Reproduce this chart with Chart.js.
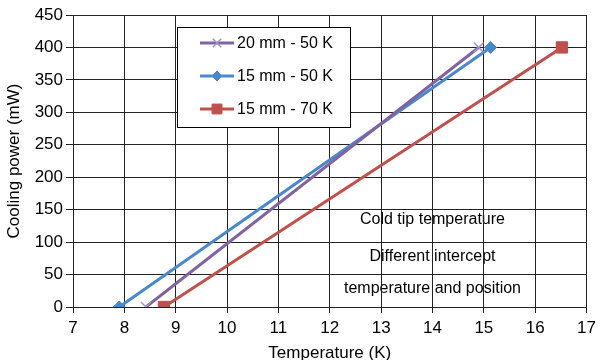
<!DOCTYPE html>
<html>
<head>
<meta charset="utf-8">
<script src="https://cdn.jsdelivr.net/npm/chart.js@4/dist/chart.umd.min.js"></script>
<style>
  html, body { margin: 0; padding: 0; background: #fff; }
  canvas { display: block; }
</style>
</head>
<body>
<canvas id="chart" width="601" height="360"></canvas>
<script>
// series values: [temperature K, cooling power mW]
const seriesLabels = ['20 mm - 50 K', '15 mm - 50 K', '15 mm - 70 K'];
const temps20mm50K = [8.42, 14.9];
const power20mm50K = [0, 400];
const temps15mm50K = [7.9, 15.13];
const power15mm50K = [0, 400];
const temps15mm70K = [8.77, 16.52];
const power15mm70K = [0, 400];

const xTicks = [7, 8, 9, 10, 11, 12, 13, 14, 15, 16, 17];
const yTicks = [0, 50, 100, 150, 200, 250, 300, 350, 400, 450];
const noteLines = ['Cold tip temperature', 'Different intercept', 'temperature and position'];
const noteX = 14.0;
const noteY = [134, 77, 28];

const FONT = '"Liberation Sans", Arial, sans-serif';
const GRID = '#222';

function toPoints(xs, ys) {
    return xs.map((x, i) => ({ x: x, y: ys[i] }));
}

// legend box drawn inside the plot, like the original
const boxLegend = {
    id: 'boxLegend',
    afterDraw(chart) {
        const ctx = chart.ctx;
        const left = 177, top = 27, w = 173, h = 100;
        ctx.save();
        ctx.fillStyle = '#fff';
        ctx.fillRect(left, top, w, h);
        ctx.strokeStyle = '#000';
        ctx.lineWidth = 1;
        ctx.strokeRect(left + 0.5, top + 0.5, w, h);
        chart.data.datasets.forEach((ds, i) => {
            const y = top + 16 + i * 33;
            ctx.strokeStyle = ds.borderColor;
            ctx.lineWidth = 3;
            ctx.beginPath();
            ctx.moveTo(200, y);
            ctx.lineTo(234, y);
            ctx.stroke();
            ctx.fillStyle = ds.backgroundColor;
            ctx.strokeStyle = ds.pointBorderColor || ds.borderColor;
            ctx.lineWidth = ds.pointBorderWidth || 1;
            Chart.helpers.drawPoint(ctx, {
                pointStyle: ds.pointStyle,
                radius: ds.pointRadius - 1,
                borderWidth: ds.pointBorderWidth || 1
            }, 217, y);
            ctx.fillStyle = '#000';
            ctx.font = '16px ' + FONT;
            ctx.textBaseline = 'middle';
            ctx.textAlign = 'left';
            ctx.fillText(ds.label, 237, y + 1);
        });
        ctx.restore();
    }
};

// annotation text sits under the grid lines
const noteText = {
    id: 'noteText',
    beforeDraw(chart) {
        const ctx = chart.ctx;
        const xs = chart.scales.x, ys = chart.scales.y;
        ctx.save();
        ctx.fillStyle = '#000';
        ctx.font = '16px ' + FONT;
        ctx.textAlign = 'center';
        ctx.textBaseline = 'middle';
        noteLines.forEach((t, i) => {
            ctx.fillText(t, xs.getPixelForValue(noteX), ys.getPixelForValue(noteY[i]));
        });
        ctx.restore();
    }
};

const ctx = document.getElementById('chart').getContext('2d');
new Chart(ctx, {
    type: 'scatter',
    data: {
        datasets: [
            {
                label: seriesLabels[0],
                data: toPoints(temps20mm50K, power20mm50K),
                showLine: true,
                borderColor: '#8064A2',
                backgroundColor: '#8064A2',
                borderWidth: 3,
                pointStyle: 'crossRot',
                pointRadius: 7,
                pointBorderColor: '#A592C6',
                pointBorderWidth: 1.5
            },
            {
                label: seriesLabels[1],
                data: toPoints(temps15mm50K, power15mm50K),
                showLine: true,
                borderColor: '#4A88CC',
                backgroundColor: '#4A88CC',
                borderWidth: 3,
                pointStyle: 'rectRot',
                pointRadius: 6,
                pointBorderWidth: 1
            },
            {
                label: seriesLabels[2],
                data: toPoints(temps15mm70K, power15mm70K),
                showLine: true,
                borderColor: '#C0504D',
                backgroundColor: '#C0504D',
                borderWidth: 3,
                pointStyle: 'rect',
                pointRadius: 8,
                pointBorderWidth: 1
            }
        ]
    },
    options: {
        responsive: false,
        animation: false,
        layout: { padding: { top: 15, right: 13, left: 0, bottom: 0 } },
        plugins: {
            legend: { display: false },
            tooltip: { enabled: false }
        },
        scales: {
            x: {
                type: 'linear',
                min: 7,
                max: 17,
                afterBuildTicks(scale) { scale.ticks = xTicks.map(v => ({ value: v })); },
                afterFit(scale) { scale.height = 53; },
                grid: { color: GRID, lineWidth: 1, tickLength: 6 },
                border: { color: GRID },
                ticks: { color: '#000', font: { size: 17, family: FONT }, padding: 5 },
                title: {
                    display: true,
                    text: 'Temperature (K)',
                    color: '#000',
                    font: { size: 17, family: FONT },
                    padding: { top: 0, bottom: -4 }
                }
            },
            y: {
                min: 0,
                max: 450,
                afterBuildTicks(scale) { scale.ticks = yTicks.map(v => ({ value: v })); },
                afterFit(scale) { scale.width = 73; },
                grid: { color: GRID, lineWidth: 1, tickLength: 7 },
                border: { color: GRID },
                ticks: { color: '#000', font: { size: 17, family: FONT }, padding: 3 },
                title: {
                    display: true,
                    text: 'Cooling power (mW)',
                    color: '#000',
                    font: { size: 17, family: FONT },
                    padding: { bottom: 0 }
                }
            }
        }
    },
    plugins: [noteText, boxLegend]
});
</script>
</body>
</html>
